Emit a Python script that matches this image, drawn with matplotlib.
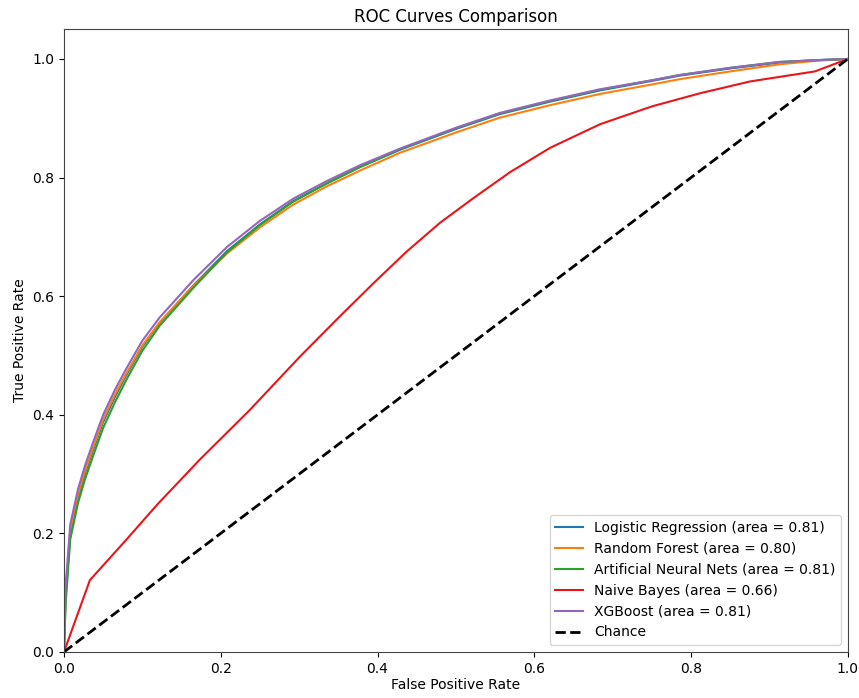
import matplotlib
matplotlib.use("Agg")
import matplotlib.pyplot as plt

fpr_grid = [0, 0.002, 0.008, 0.018, 0.027, 0.037, 0.05, 0.065, 0.08, 0.1, 0.122, 0.165, 0.208,
            0.25, 0.292, 0.335, 0.378, 0.429, 0.5, 0.556, 0.62, 0.684, 0.75, 0.786,
            0.85, 0.913, 0.96, 1.0]

tpr_logistic = [0, 0.09, 0.2, 0.262, 0.302, 0.34, 0.388, 0.43, 0.468, 0.515, 0.555, 0.618, 0.676,
                0.721, 0.76, 0.79, 0.818, 0.847, 0.882, 0.907, 0.928, 0.947, 0.963,
                0.972, 0.984, 0.994, 0.998, 1.0]
tpr_rf = [0, 0.10, 0.205, 0.266, 0.306, 0.344, 0.392, 0.434, 0.471, 0.517, 0.556, 0.617, 0.672,
          0.716, 0.754, 0.785, 0.812, 0.842, 0.876, 0.901, 0.922, 0.941, 0.957, 0.966,
          0.979, 0.991, 0.997, 1.0]
tpr_ann = [0, 0.08, 0.19, 0.252, 0.292, 0.33, 0.378, 0.421, 0.46, 0.508, 0.55, 0.614, 0.674,
           0.72, 0.759, 0.79, 0.818, 0.848, 0.883, 0.908, 0.929, 0.948, 0.964, 0.973,
           0.985, 0.995, 0.998, 1.0]
tpr_xgb = [0, 0.11, 0.215, 0.275, 0.315, 0.353, 0.4, 0.442, 0.479, 0.525, 0.564, 0.627, 0.683,
           0.727, 0.764, 0.794, 0.821, 0.849, 0.884, 0.909, 0.93, 0.949, 0.964, 0.973,
           0.985, 0.995, 0.998, 1.0]

fpr_nb = [0, 0.033, 0.08, 0.12, 0.148, 0.173, 0.237, 0.301, 0.352, 0.395, 0.437, 0.48,
          0.522, 0.569, 0.620, 0.684, 0.75, 0.811, 0.875, 0.958, 1.0]
tpr_nb = [0, 0.121, 0.19, 0.25, 0.289, 0.324, 0.408, 0.498, 0.566, 0.622, 0.675, 0.724,
          0.765, 0.809, 0.85, 0.89, 0.92, 0.942, 0.962, 0.979, 1.0]

model_names = ["Logistic Regression", "Random Forest", "Artificial Neural Nets",
               "Naive Bayes", "XGBoost"]
aucs = [0.81, 0.80, 0.81, 0.66, 0.81]
colors = ["#1f77b4", "#ff7f0e", "#2ca02c", "#e8161b", "#9467bd"]

curves = [(fpr_grid, tpr_logistic), (fpr_grid, tpr_rf), (fpr_grid, tpr_ann),
          (fpr_nb, tpr_nb), (fpr_grid, tpr_xgb)]

fig = plt.figure(figsize=(8.59, 6.98), dpi=100)
ax = fig.add_axes([0.0745, 0.066, 0.9125, 0.892])

for (fx, ty), name, auc, c in zip(curves, model_names, aucs, colors):
    ax.plot(fx, ty, color=c, lw=1.5, label=f"{name} (area = {auc:.2f})")
ax.plot([0, 1], [0, 1], "k--", lw=2, label="Chance")

ax.set_xlim(0, 1)
ax.set_ylim(0, 1.05)
ax.set_xlabel("False Positive Rate", fontsize=10, labelpad=2)
ax.set_ylabel("True Positive Rate", fontsize=10)
ax.set_title("ROC Curves Comparison", fontsize=12, pad=5)
ax.tick_params(labelsize=10)
for s in ax.spines.values():
    s.set_color("#444444")
ax.legend(loc="lower right", fontsize=10)

fig.savefig("out.png", dpi=100)
